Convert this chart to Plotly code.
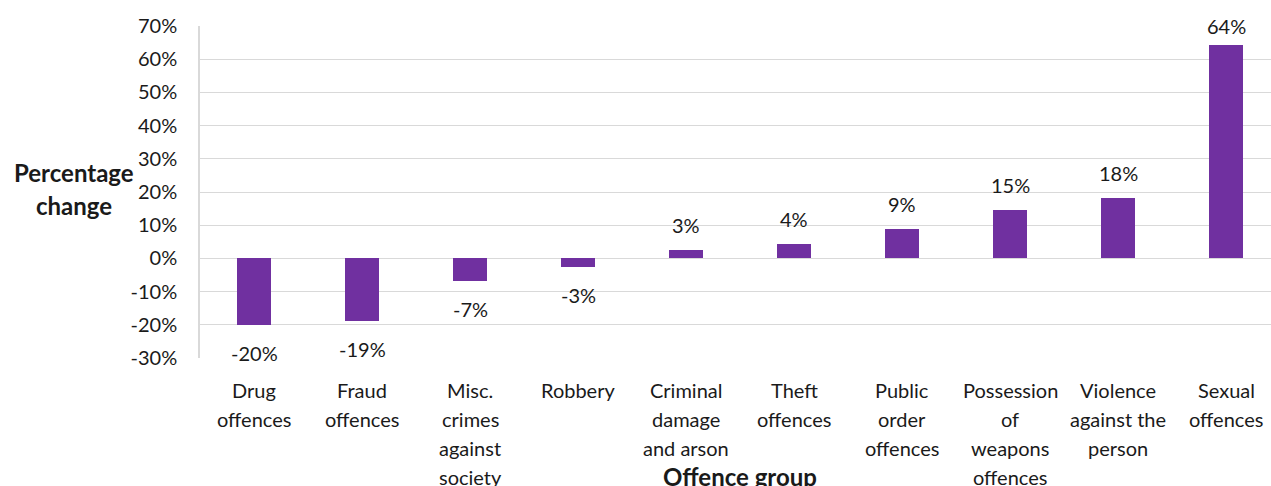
import plotly.graph_objects as go

# Offence groups and percentage change
categories = [
    "Drug offences",
    "Fraud offences",
    "Misc. crimes against society",
    "Robbery",
    "Criminal damage and arson",
    "Theft offences",
    "Public order offences",
    "Possession of weapons offences",
    "Violence against the person",
    "Sexual offences",
]
tick_lines = [
    ["Drug", "offences"],
    ["Fraud", "offences"],
    ["Misc.", "crimes", "against", "society"],
    ["Robbery"],
    ["Criminal", "damage", "and arson"],
    ["Theft", "offences"],
    ["Public", "order", "offences"],
    ["Possession", "of", "weapons", "offences"],
    ["Violence", "against the", "person"],
    ["Sexual", "offences"],
]
pct_change = [-20.2, -19.0, -6.8, -2.7, 2.6, 4.2, 9.0, 14.6, 18.1, 64.2]

y_ticks = list(range(-30, 71, 10))

FONT = "Lato"
TEXT = "#1a1a1a"
BAR = "#7030A0"
GRID = "#d9d9d9"

W, H = 1271, 486
M_L, M_R, M_T, M_B = 200, 0, 26, 128
plot_h = H - M_T - M_B
plot_w = W - M_L - M_R
y_min, y_max = -30, 70
px_per_unit = plot_h / (y_max - y_min)

fig = go.Figure()
fig.add_trace(go.Bar(
    x=categories,
    y=pct_change,
    width=0.315,
    marker=dict(color=BAR, line=dict(width=0)),
    hoverinfo="skip",
))

annotations = []

# value labels, kept clear of the bar end and inside the plot area
for cat, v in zip(categories, pct_change):
    gap = 25 if v >= 0 else -28
    ly = min(v + gap / px_per_unit, y_max)
    annotations.append(dict(
        x=cat, y=ly, xref="x", yref="y", text=f"{round(v):d}%",
        showarrow=False, yanchor="middle", xanchor="center",
        font=dict(family=FONT, size=20, color=TEXT),
    ))

# multi-line category labels under the axis
for cat, lines in zip(categories, tick_lines):
    for j, line in enumerate(lines):
        annotations.append(dict(
            x=cat, y=0, xref="x", yref="paper", text=line,
            showarrow=False, yanchor="middle", xanchor="center",
            yshift=-(32 + 29 * j),
            font=dict(family=FONT, size=20, color=TEXT),
        ))

# axis titles
annotations.append(dict(
    x=4.5, y=0, xref="x", yref="paper", text="<b>Offence group</b>",
    showarrow=False, yanchor="middle", xanchor="center", yshift=-118,
    font=dict(family=FONT, size=24, color=TEXT),
))
title_x = (74 - M_L) / plot_w  # 74 px from the left edge, in paper units
for k, word in enumerate(["Percentage", "change"]):
    annotations.append(dict(
        x=title_x, y=0.5, xref="paper", yref="paper", text=f"<b>{word}</b>",
        showarrow=False, yanchor="middle", xanchor="center",
        yshift=20 - 33 * k, font=dict(family=FONT, size=24, color=TEXT),
    ))

fig.update_layout(
    width=W, height=H,
    margin=dict(l=M_L, r=M_R, t=M_T, b=M_B, pad=0),
    paper_bgcolor="white", plot_bgcolor="white",
    showlegend=False,
    bargap=0,
    font=dict(family=FONT, size=20, color=TEXT),
    xaxis=dict(
        type="category",
        range=[-0.5, -0.5 + plot_w / 108],
        showticklabels=False, ticks="",
        showgrid=False, zeroline=False, showline=False,
        fixedrange=True,
    ),
    yaxis=dict(
        range=[y_min, y_max],
        tickvals=y_ticks,
        ticktext=[f"{t}%" for t in y_ticks],
        tickfont=dict(family=FONT, size=20, color=TEXT),
        ticks="", ticklabelstandoff=17,
        showgrid=True, gridcolor=GRID, gridwidth=1.3,
        zeroline=False,
        showline=True, linecolor=GRID, linewidth=1.5,
        fixedrange=True,
    ),
    annotations=annotations,
)

fig.write_html("out.html", config={"displayModeBar": False})
